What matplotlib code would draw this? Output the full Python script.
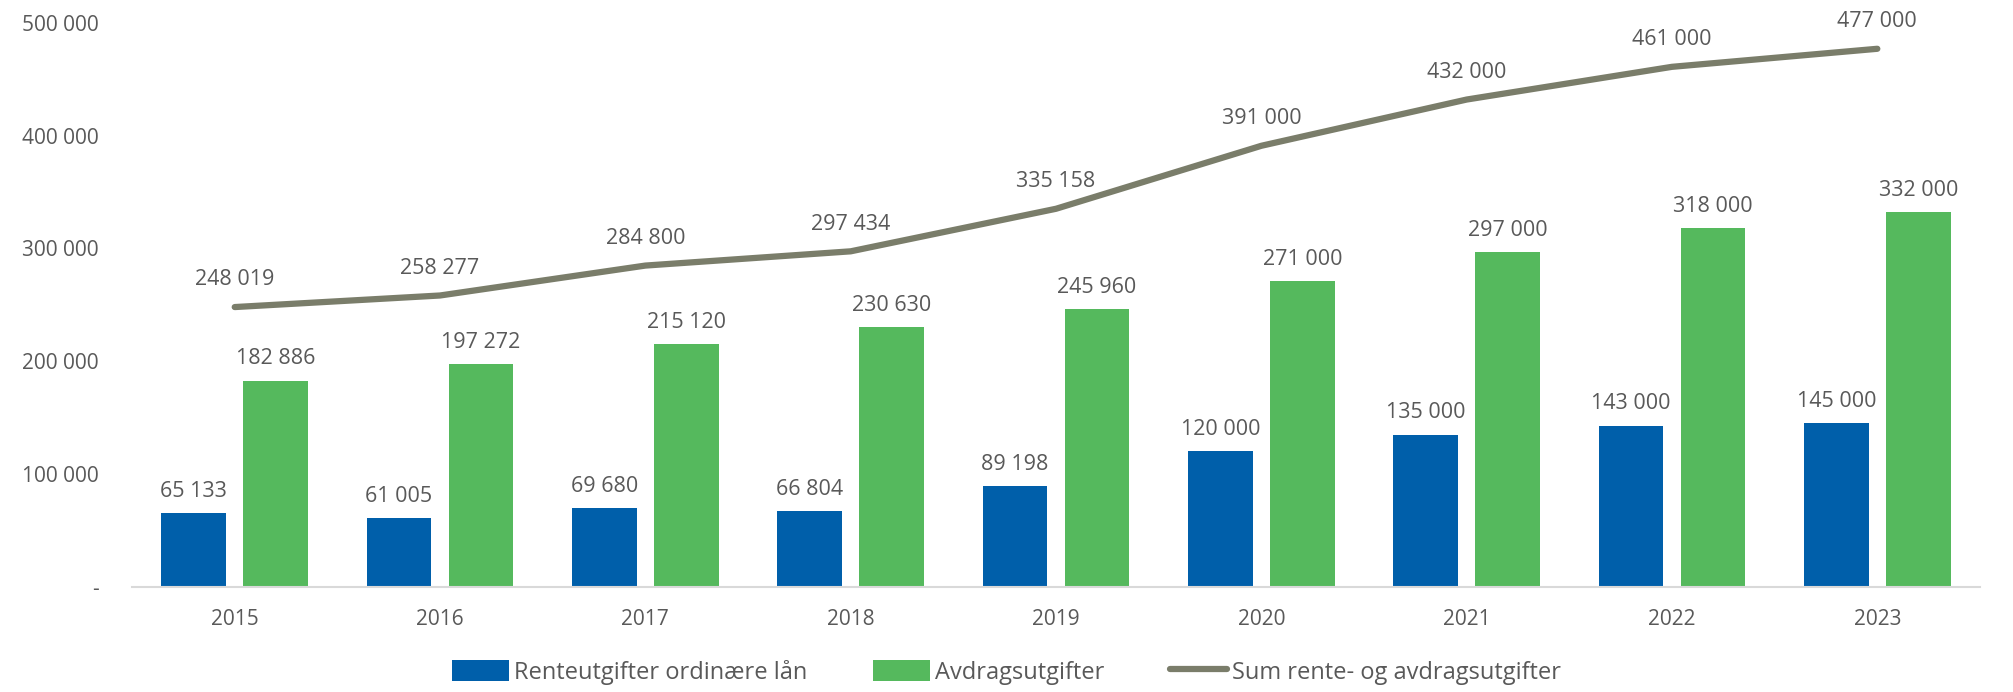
import matplotlib.pyplot as plt
import numpy as np

years = ["2015", "2016", "2017", "2018", "2019", "2020", "2021", "2022", "2023"]
renter = [65133, 61005, 69680, 66804, 89198, 120000, 135000, 143000, 145000]
avdrag = [182886, 197272, 215120, 230630, 245960, 271000, 297000, 318000, 332000]
sum_total = [248019, 258277, 284800, 297434, 335158, 391000, 432000, 461000, 477000]

y_ticks = [0, 100000, 200000, 300000, 400000, 500000]

BLUE = "#005FAA"
GREEN = "#55B95D"
LINE = "#7A7D6A"
TEXT = "#595959"

plt.rcParams["font.family"] = ["Open Sans", "DejaVu Sans"]


def fmt(v):
    # norsk tusenskille: mellomrom
    return f"{v:,}".replace(",", " ")


fig = plt.figure(figsize=(20.13, 6.92), dpi=100)
ax = fig.add_axes([0.0656, 0.152, 0.918, 0.815])

x = np.arange(len(years))
w = 0.315
off = 0.2

b1 = ax.bar(x - off, renter, w, color=BLUE, label="Renteutgifter ordinære lån", zorder=2)
b2 = ax.bar(x + off, avdrag, w, color=GREEN, label="Avdragsutgifter", zorder=2)
ln, = ax.plot(x, sum_total, color=LINE, lw=4.5, solid_capstyle="round",
              label="Sum rente- og avdragsutgifter", zorder=3)

for xi, v in zip(x - off, renter):
    ax.annotate(fmt(v), (xi, v), xytext=(0, 8), textcoords="offset points",
                ha="center", va="bottom", fontsize=15.5, color=TEXT)
for xi, v in zip(x + off, avdrag):
    ax.annotate(fmt(v), (xi, v), xytext=(0, 8), textcoords="offset points",
                ha="center", va="bottom", fontsize=15.5, color=TEXT)
for xi, v in zip(x, sum_total):
    ax.annotate(fmt(v), (xi, v), xytext=(0, 12), textcoords="offset points",
                ha="center", va="bottom", fontsize=15.5, color=TEXT,
                annotation_clip=False)

ax.set_xlim(-0.5, len(years) - 0.5)
ax.set_ylim(0, 500000)
ax.set_xticks(x)
ax.set_xticklabels(years)
ax.set_yticks(y_ticks)
ax.set_yticklabels(["-"] + [fmt(t) for t in y_ticks[1:]])
ax.tick_params(axis="both", length=0, labelsize=15, colors=TEXT)
ax.tick_params(axis="x", pad=16)
ax.tick_params(axis="y", pad=24)

for s in ["top", "right", "left"]:
    ax.spines[s].set_visible(False)
ax.spines["bottom"].set_color("#D9D9D9")
ax.spines["bottom"].set_linewidth(1.5)

fig.legend(handles=[b1, b2, ln], loc="lower center", bbox_to_anchor=(0.5, -0.02),
           ncol=3, frameon=False, fontsize=17, labelcolor=TEXT,
           handlelength=2.4, handleheight=1.0, handletextpad=0.2, columnspacing=2.8)

fig.savefig("out.png", dpi=100)
